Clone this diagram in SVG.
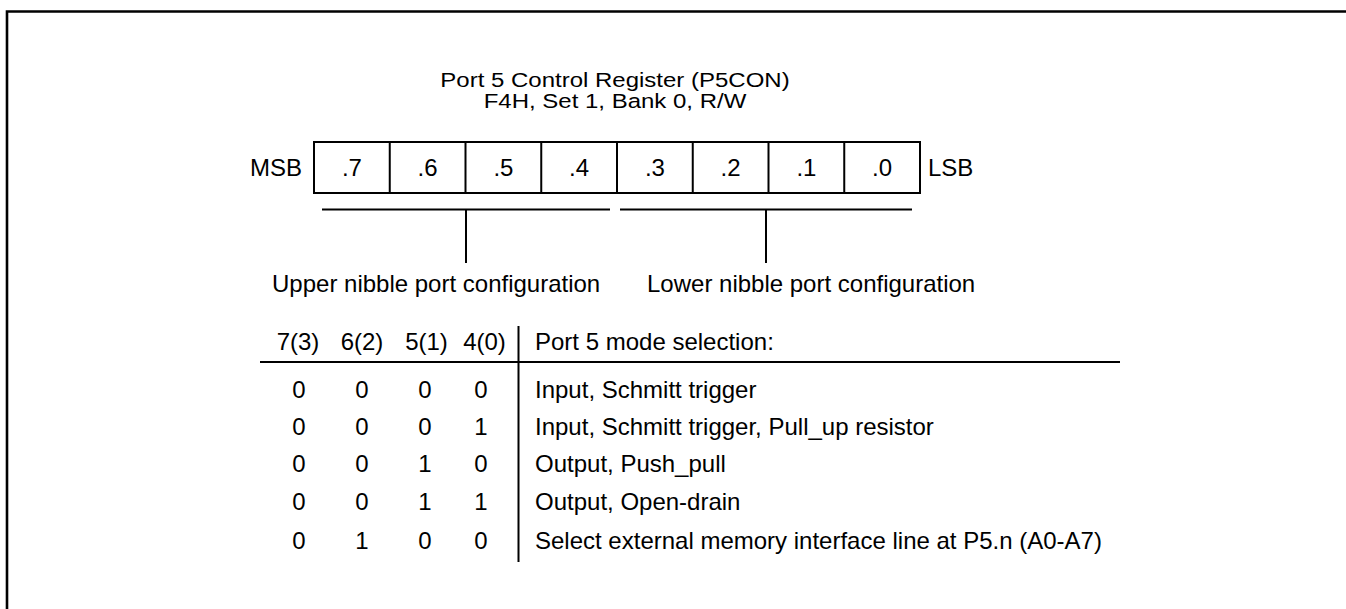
<svg xmlns="http://www.w3.org/2000/svg" width="1346" height="609" viewBox="0 0 1346 609">
<style>
text{font-family:"Liberation Sans",Arial,Helvetica,sans-serif;font-size:24px;fill:#000}
.c{text-anchor:middle}
.e{text-anchor:end}
.ln{stroke:#000;stroke-width:2;fill:none}
</style>
<rect width="1346" height="609" fill="#fff"/>
<g id="frame">
<path d="M7,609 V11.5 H1346" stroke="#000" stroke-width="2.6" fill="none"/>
</g>
<g id="title">
<text class="c" transform="translate(615,87) scale(1,0.88)">Port 5 Control Register (P5CON)</text>
<text class="c" transform="translate(615,108) scale(1,0.88)">F4H, Set 1, Bank 0, R/W</text>
</g>
<g id="register">
<text class="e" x="302" y="176">MSB</text>
<rect class="ln" x="314" y="142" width="606" height="51"/>
<path class="ln" d="M389.75,142V193M465.5,142V193M541.25,142V193M617,142V193M692.75,142V193M768.5,142V193M844.25,142V193"/>
<text class="c" x="351.9" y="176">.7</text>
<text class="c" x="427.6" y="176">.6</text>
<text class="c" x="503.4" y="176">.5</text>
<text class="c" x="579.1" y="176">.4</text>
<text class="c" x="654.9" y="176">.3</text>
<text class="c" x="730.6" y="176">.2</text>
<text class="c" x="806.4" y="176">.1</text>
<text class="c" x="882.1" y="176">.0</text>
<text x="928" y="176">LSB</text>
</g>
<g id="connectors">
<path class="ln" d="M322,209.5H610M466,209.5V263"/>
<path class="ln" d="M620,209.5H912M766,209.5V263"/>
</g>
<g id="upper-label"><text x="272" y="292">Upper nibble port configuration</text></g>
<g id="lower-label"><text x="647" y="292">Lower nibble port configuration</text></g>
<g id="table">
<path class="ln" d="M260,362H1120M518.5,326V562"/>
<text class="c" x="298" y="350">7(3)</text>
<text class="c" x="362" y="350">6(2)</text>
<text class="c" x="426.5" y="350">5(1)</text>
<text class="c" x="484.5" y="350">4(0)</text>
<text x="535" y="350">Port 5 mode selection:</text>
<g class="c">
<text x="299" y="398">0</text><text x="362" y="398">0</text><text x="425" y="398">0</text><text x="481" y="398">0</text>
<text x="299" y="435">0</text><text x="362" y="435">0</text><text x="425" y="435">0</text><text x="481" y="435">1</text>
<text x="299" y="472">0</text><text x="362" y="472">0</text><text x="425" y="472">1</text><text x="481" y="472">0</text>
<text x="299" y="510">0</text><text x="362" y="510">0</text><text x="425" y="510">1</text><text x="481" y="510">1</text>
<text x="299" y="549">0</text><text x="362" y="549">1</text><text x="425" y="549">0</text><text x="481" y="549">0</text>
</g>
<text x="535" y="398">Input, Schmitt trigger</text>
<text x="535" y="435">Input, Schmitt trigger, Pull_up resistor</text>
<text x="535" y="472">Output, Push_pull</text>
<text x="535" y="510">Output, Open-drain</text>
<text x="535" y="549">Select external memory interface line at P5.n (A0-A7)</text>
</g>
</svg>
